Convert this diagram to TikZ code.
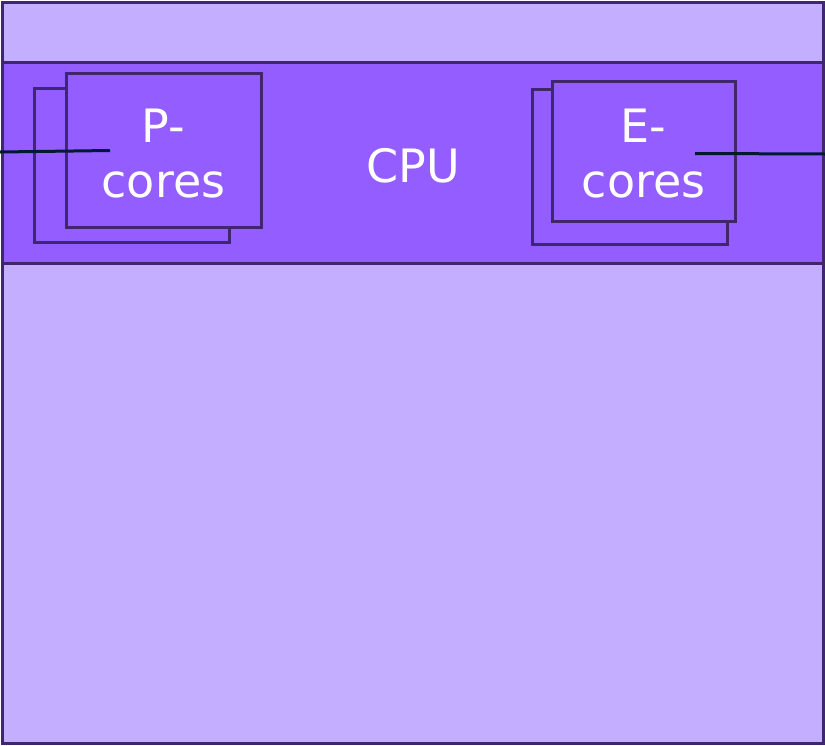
\documentclass[tikz,border=0pt]{standalone}
\usepackage{fontspec}
\setmainfont{DejaVu Sans}
\usetikzlibrary{positioning}

\definecolor{chipLight}{RGB}{196,174,255}
\definecolor{chipBand}{RGB}{147,93,255}
\definecolor{chipEdge}{RGB}{64,38,110}
\definecolor{wireInk}{RGB}{1,26,51}

\tikzset{every picture/.style={line width=3pt}}
\tikzset{
  corebox/.style={draw=chipEdge, fill=chipBand, line width=3pt, minimum width=195pt, minimum height=154pt, inner sep=0pt},
  corelabel/.style={text=white, font=\fontsize{46}{55}\selectfont, align=center},
  wire/.style={draw=wireInk, line width=3pt}
}

\begin{document}
\begin{tikzpicture}[x=1pt,y=1pt,yscale=-1,xscale=1]
\useasboundingbox (0,0) rectangle (825,745);

%Shape: Rectangle [id:board]
\node [draw=chipEdge, fill=chipLight, line width=3pt, minimum width=821pt, minimum height=741pt, inner sep=0pt] (board) at (412.5,372.5) {};
%Shape: Rectangle [id:cpu]
\node [draw=chipEdge, fill=chipBand, line width=3pt, minimum width=821pt, minimum height=201pt, inner sep=0pt] (cpu) at (412.5,162.5) {};
% Text Node
\node [corelabel] (cputext) at (413,166) {CPU};

%Shape: Rectangle [id:pback]
\node [corebox] (pback) at (131.5,165.5) {};
%Shape: Rectangle [id:pfront]
\node [corebox] (pcores) at (163.5,150) {};
% Text Node
\node [corelabel] (ptext) at (163.5,154) {P-\\cores};

%Shape: Rectangle [id:eback]
\node [corebox, minimum height=155pt] (eback) at (629.5,166.5) {};
%Shape: Rectangle [id:efront]
\node [corebox, minimum width=183pt, minimum height=140pt] (ecores) at (644,151) {};
% Text Node
\node [corelabel] (etext) at (643.5,154) {E-\\cores};

%Straight Lines [id:pwire]
\coordinate (pin) at (0,152);
\coordinate (pend) at (110,150.5);
\draw [wire] (pin) -- (pend);
%Straight Lines [id:ewire]
\coordinate (ein) at (695,153.5);
\coordinate (eout) at (825,154);
\draw [wire] (ein) -- (eout);

\end{tikzpicture}
\end{document}
